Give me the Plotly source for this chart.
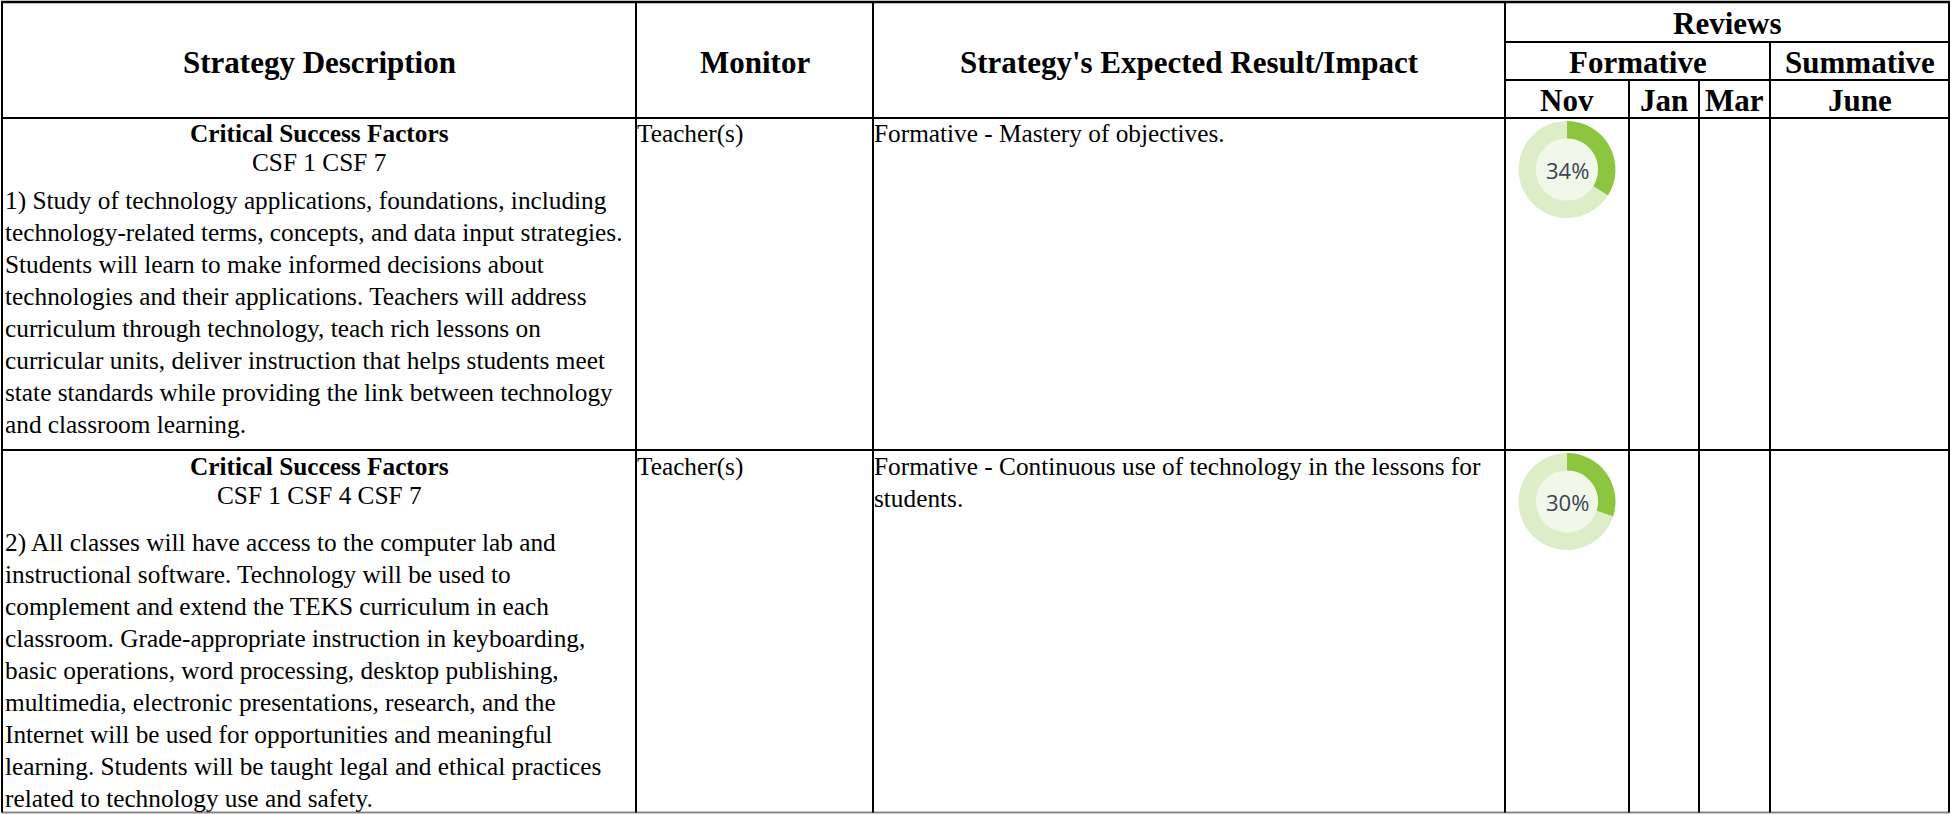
import plotly.graph_objects as go

# ---------------- data ----------------
header_main = ["Strategy Description", "Monitor", "Strategy's Expected Result/Impact"]
review_group = "Reviews"
review_types = ["Formative", "Summative"]
review_months = ["Nov", "Jan", "Mar", "June"]

csf_titles = ["Critical Success Factors", "Critical Success Factors"]
csf_codes = ["CSF 1 CSF 7", "CSF 1 CSF 4 CSF 7"]
strategy_lines = [
    [
        "1) Study of technology applications, foundations, including",
        "technology-related terms, concepts, and data input strategies.",
        "Students will learn to make informed decisions about",
        "technologies and their applications. Teachers will address",
        "curriculum through technology, teach rich lessons on",
        "curricular units, deliver instruction that helps students meet",
        "state standards while providing the link between technology",
        "and classroom learning.",
    ],
    [
        "2) All classes will have access to the computer lab and",
        "instructional software. Technology will be used to",
        "complement and extend the TEKS curriculum in each",
        "classroom. Grade-appropriate instruction in keyboarding,",
        "basic operations, word processing, desktop publishing,",
        "multimedia, electronic presentations, research, and the",
        "Internet will be used for opportunities and meaningful",
        "learning. Students will be taught legal and ethical practices",
        "related to technology use and safety.",
    ],
]
monitors = ["Teacher(s)", "Teacher(s)"]
impacts = [
    ["Formative - Mastery of objectives."],
    ["Formative - Continuous use of technology in the lessons for", "students."],
]
nov_progress = [34, 30]

# ---------------- layout geometry ----------------
W, H = 1951, 814
col_edges = [2, 636, 873, 1505, 1629, 1699, 1770, 1949]
hdr_lines = [2, 42, 80, 118]
row_tops = [118, 450]
bottom = 812.5
# vertical centers of text lines (title, csf, first body line) per row
title_y = [133, 466]
csf_y = [162, 495]
body_y0 = [200, 542]

SERIF = "Liberation Serif, Times New Roman, serif"
BODY = 25.3
HEAD = 31
LH = 32

fig = go.Figure()
shapes = []
ann = []


def hline(y, x0, x1, color="#000", w=2):
    shapes.append(dict(type="line", xref="x", yref="y", x0=x0, x1=x1, y0=y, y1=y,
                       line=dict(color=color, width=w), layer="above"))


def vline(x, y0, y1, color="#000", w=2):
    shapes.append(dict(type="line", xref="x", yref="y", x0=x, x1=x, y0=y0, y1=y1,
                       line=dict(color=color, width=w), layer="above"))


def text(x, y, s, size=BODY, bold=False, xanchor="left", color="#000", family=SERIF):
    ann.append(dict(x=x, y=y, xref="x", yref="y", text=f"<b>{s}</b>" if bold else s,
                    showarrow=False, xanchor=xanchor, yanchor="middle",
                    borderpad=0, borderwidth=0,
                    font=dict(family=family, size=size, color=color)))


# grid lines
hline(hdr_lines[0], col_edges[0] - 1, col_edges[-1] + 1, w=2.5)
hline(hdr_lines[1], col_edges[3], col_edges[-1])
hline(hdr_lines[2], col_edges[3], col_edges[-1])
hline(hdr_lines[3], col_edges[0], col_edges[-1])
hline(row_tops[1], col_edges[0], col_edges[-1])
hline(bottom, col_edges[0], col_edges[-1], color="#888")
for i in (0, 1, 2, 3, 7):
    vline(col_edges[i], hdr_lines[0], bottom)
vline(col_edges[4], hdr_lines[2], bottom)
vline(col_edges[5], hdr_lines[2], bottom)
vline(col_edges[6], hdr_lines[1], bottom)

# header texts
for i, h in enumerate(header_main):
    text((col_edges[i] + col_edges[i + 1]) / 2, 62, h, size=HEAD, bold=True, xanchor="center")
text((col_edges[3] + col_edges[7]) / 2, 23, review_group, size=HEAD, bold=True, xanchor="center")
text((col_edges[3] + col_edges[6]) / 2, 62, review_types[0], size=HEAD, bold=True, xanchor="center")
text((col_edges[6] + col_edges[7]) / 2, 62, review_types[1], size=HEAD, bold=True, xanchor="center")
for j, m in enumerate(review_months):
    text((col_edges[3 + j] + col_edges[4 + j]) / 2, 100, m, size=HEAD, bold=True, xanchor="center")

# body rows
c1_mid = (col_edges[0] + col_edges[1]) / 2
for r in range(len(csf_titles)):
    top = row_tops[r]
    text(c1_mid, title_y[r], csf_titles[r], bold=True, xanchor="center")
    text(c1_mid, csf_y[r], csf_codes[r], xanchor="center")
    for k, line in enumerate(strategy_lines[r]):
        text(col_edges[0] + 3, body_y0[r] + k * LH, line)
    text(col_edges[1] + 1, title_y[r], monitors[r])
    for k, line in enumerate(impacts[r]):
        text(col_edges[2] + 1, title_y[r] + k * LH, line)

    # donut in Nov column
    cx = (col_edges[3] + col_edges[4]) / 2
    rad = 48.5
    cy = top + 3 + rad
    shapes.append(dict(type="circle", xref="x", yref="y", x0=cx - 31, x1=cx + 31,
                       y0=cy - 31, y1=cy + 31, fillcolor="#f1f8e9",
                       line=dict(width=0), layer="below"))
    fig.add_trace(go.Pie(
        values=[nov_progress[r], 100 - nov_progress[r]],
        marker=dict(colors=["#8cc63f", "#dcedc8"], line=dict(width=0)),
        hole=0.64, sort=False, direction="clockwise", rotation=0,
        textinfo="none", hoverinfo="skip", showlegend=False,
        domain=dict(x=[(cx - rad) / W, (cx + rad) / W],
                    y=[1 - (cy + rad) / H, 1 - (cy - rad) / H]),
    ))
    text(cx, cy, f"{nov_progress[r]}%", size=22, xanchor="center",
         color="#3a4454", family="Open Sans, Arial, sans-serif")

fig.update_layout(
    width=W, height=H, margin=dict(l=0, r=0, t=0, b=0),
    paper_bgcolor="white", plot_bgcolor="white",
    xaxis=dict(range=[0, W], visible=False, fixedrange=True),
    yaxis=dict(range=[H, 0], visible=False, fixedrange=True),
    shapes=shapes, annotations=ann, showlegend=False,
)
fig.write_html(
    "out.html",
    config={"displayModeBar": False},
    post_script="document.body.style.margin='0px';document.documentElement.style.overflow='hidden';",
)
